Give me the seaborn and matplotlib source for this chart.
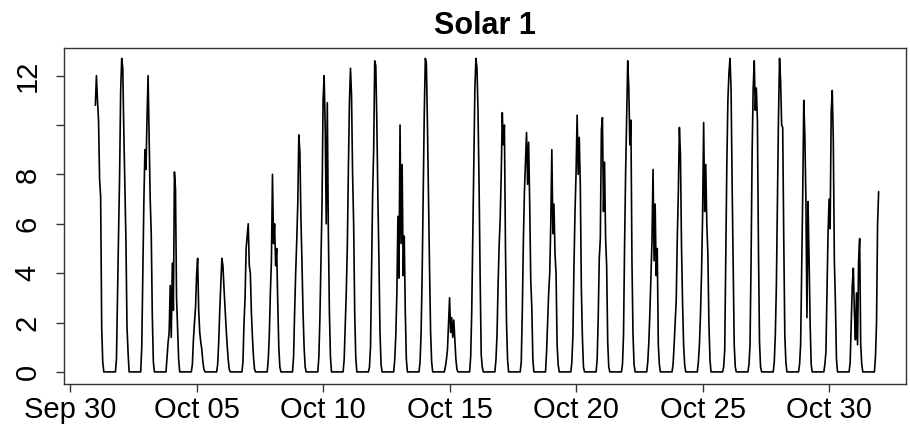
"""
Solar 1 hourly output, October
"""

import pandas as pd
import numpy as np
import matplotlib
matplotlib.use("Agg")
import matplotlib.pyplot as plt
import matplotlib.dates as mdates
import seaborn as sns

# daylight profiles, hourly values 20:00 (previous day) .. 07:00
oct01 = [10.8, 12.0, 11.0, 10.2, 7.8, 7.1, 1.8, 0.4]  # series starts at Oct 01 00:00
oct02 = [0.5, 3.1, 5.6, 8.0, 11.4, 12.7, 12.3, 9.7, 7.5, 5.3, 1.8, 0.8]
oct03 = [1.0, 4.0, 6.9, 9.0, 8.2, 10.3, 12.0, 9.5, 7.0, 5.6, 2.3, 0.4]
oct04 = [0.6, 1.2, 1.6, 3.5, 1.4, 4.4, 2.5, 8.1, 7.4, 3.0, 1.8, 0.5]
oct05 = [0.3, 1.3, 2.0, 2.6, 3.9, 4.6, 2.5, 1.6, 1.2, 0.9, 0.4, 0.1]
oct06 = [0.3, 1.2, 2.5, 3.5, 4.6, 4.3, 3.4, 2.6, 1.8, 1.1, 0.5, 0.1]
oct07 = [0.4, 2.0, 3.0, 5.0, 5.5, 6.0, 4.3, 4.0, 2.4, 1.4, 0.6, 0.1]
oct08 = [0.5, 1.5, 3.2, 4.5, 8.0, 5.2, 6.0, 4.3, 5.0, 2.8, 1.0, 0.2]
oct09 = [0.6, 2.4, 4.0, 5.3, 6.8, 9.6, 8.9, 6.2, 4.4, 2.4, 1.0, 0.2]
oct10 = [0.6, 2.2, 4.5, 6.8, 11.0, 12.0, 9.9, 6.0, 10.9, 5.7, 2.4, 0.6]
oct11 = [0.5, 1.8, 3.2, 5.1, 8.2, 10.9, 12.3, 11.2, 8.0, 6.0, 2.4, 0.6]
oct12 = [0.2, 1.0, 4.1, 7.2, 9.0, 12.6, 12.4, 10.1, 7.0, 4.5, 1.6, 0.3]
oct13 = [0.5, 1.5, 3.2, 6.3, 3.8, 10.0, 5.2, 8.4, 3.9, 5.5, 2.4, 0.5]
oct14 = [0.4, 1.6, 4.0, 7.4, 10.5, 12.7, 12.5, 10.0, 7.0, 4.2, 1.6, 0.4]
oct15 = [0.2, 0.5, 0.9, 1.9, 3.0, 1.6, 2.2, 1.4, 2.1, 1.3, 0.5, 0.1]
oct16 = [0.6, 2.4, 5.5, 8.6, 11.5, 12.7, 12.3, 10.5, 7.5, 3.8, 0.7, 0.2]
oct17 = [0.5, 1.5, 3.5, 5.1, 6.2, 8.0, 10.5, 9.2, 10.0, 5.1, 2.0, 0.5]
oct18 = [0.4, 2.5, 5.3, 7.3, 8.5, 9.7, 7.6, 9.3, 6.8, 3.7, 2.6, 0.5]
oct19 = [0.8, 2.0, 3.2, 4.0, 6.0, 9.0, 5.6, 6.8, 4.8, 4.0, 1.1, 0.3]
oct20 = [0.4, 1.5, 4.3, 6.5, 8.1, 10.4, 8.0, 9.5, 7.6, 3.4, 1.4, 0.2]
oct21 = [0.5, 2.2, 4.6, 5.4, 9.8, 10.3, 6.5, 8.5, 5.4, 4.3, 1.2, 0.2]
oct22 = [0.3, 1.5, 5.1, 8.1, 10.4, 12.6, 11.5, 9.2, 10.2, 4.5, 1.5, 0.3]
oct23 = [0.4, 1.2, 2.4, 3.9, 5.3, 8.2, 4.5, 6.8, 3.9, 5.0, 1.1, 0.3]
oct24 = [0.3, 1.1, 2.0, 2.9, 5.4, 7.3, 9.9, 8.8, 5.1, 2.8, 1.1, 0.3]
oct25 = [0.4, 1.1, 2.3, 4.0, 6.3, 10.1, 6.5, 8.4, 6.0, 4.8, 2.0, 0.5]
oct26 = [0.2, 0.9, 4.5, 8.4, 11.0, 12.1, 12.7, 11.5, 7.7, 4.5, 1.1, 0.2]
oct27 = [0.3, 1.1, 4.5, 8.9, 11.5, 12.6, 10.6, 11.5, 10.2, 5.0, 1.2, 0.2]
oct28 = [0.4, 1.5, 3.5, 7.0, 10.3, 12.7, 11.8, 10.0, 9.9, 5.4, 1.5, 0.4]
oct29 = [0.3, 1.1, 4.0, 7.2, 11.0, 9.6, 7.0, 2.2, 6.9, 4.6, 2.0, 0.3]
oct30 = [0.3, 0.8, 3.2, 5.6, 7.0, 5.8, 10.5, 11.4, 9.4, 4.5, 2.8, 0.5]
oct31 = [0.4, 1.9, 3.5, 4.2, 2.4, 1.3, 3.2, 1.1, 4.5, 5.4, 1.1, 0.3]
nov01 = [0.6, 2.0, 6.0, 7.3]  # series ends at Oct 31 23:00
night = [0.0] * 12  # 08:00 .. 19:00

days = [oct02, oct03, oct04, oct05, oct06, oct07, oct08, oct09, oct10, oct11,
        oct12, oct13, oct14, oct15, oct16, oct17, oct18, oct19, oct20, oct21,
        oct22, oct23, oct24, oct25, oct26, oct27, oct28, oct29, oct30, oct31]

tick_dates = ["2023-09-30", "2023-10-05", "2023-10-10", "2023-10-15",
              "2023-10-20", "2023-10-25", "2023-10-30"]
y_ticks = [0, 2, 4, 6, 8, 10, 12]
y_labels = ["0", "2", "4", "6", "8", "", "12"]

# assemble hourly series
values = list(oct01)
for d in days:
    values += night + d
values += night + nov01
times = pd.date_range("2023-10-01 00:00", periods=len(values), freq="h")
df = pd.DataFrame({"time": times, "power": values})

sns.set_style("white")
plt.rcParams["font.family"] = ["Liberation Sans", "DejaVu Sans"]

fig = plt.figure(figsize=(9.1, 4.33), dpi=100)
ax = fig.add_axes([64 / 910, 1 - 384 / 433, 842 / 910, 336 / 433])

sns.lineplot(data=df, x="time", y="power", color="black", linewidth=1.2,
             estimator=None, ax=ax)

t0 = pd.Timestamp("2023-09-30")
ax.set_xlim(t0 - pd.Timedelta(days=0.24), t0 + pd.Timedelta(days=33.04))
ax.set_ylim(-0.49, 13.12)

ax.set_xticks(pd.to_datetime(tick_dates))
ax.xaxis.set_major_formatter(mdates.DateFormatter("%b %d"))
ax.set_yticks(y_ticks)
ax.set_yticklabels(y_labels, rotation=90, va="center")

ax.tick_params(axis="both", direction="out", length=6, width=1,
               color="#333333", labelsize=21, labelcolor="black")
ax.tick_params(axis="x", pad=3, bottom=True)
ax.tick_params(axis="y", pad=10, left=True)

for s in ax.spines.values():
    s.set_color("#333333")
    s.set_linewidth(1)
    s.set_visible(True)

ax.set_xlabel("")
ax.set_ylabel("")
ax.set_title("Solar 1", fontsize=22, fontweight="bold", color="black", pad=10)

fig.savefig("out.png", dpi=100)
